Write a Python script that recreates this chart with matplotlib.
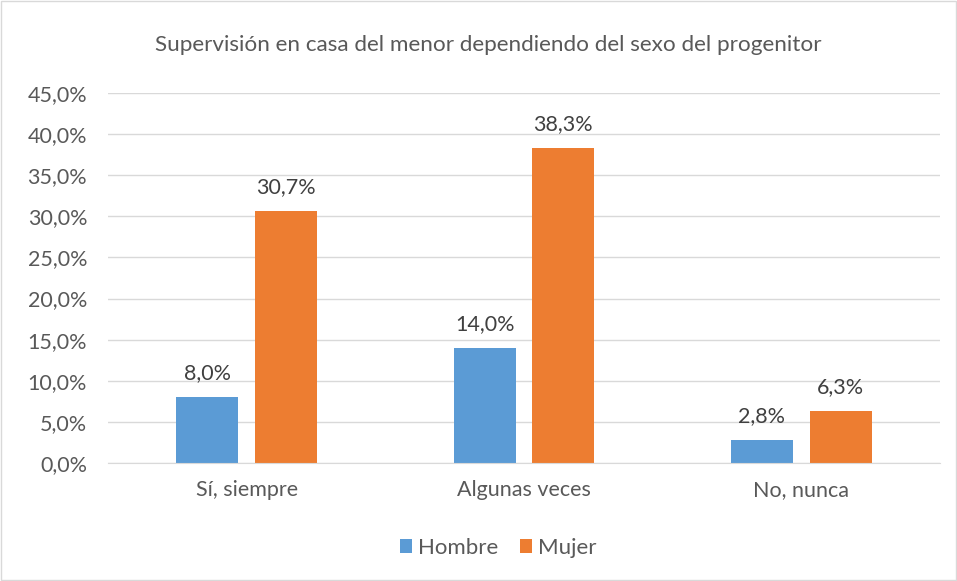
import matplotlib
matplotlib.use("Agg")
import matplotlib.pyplot as plt
from matplotlib.patches import Rectangle
import numpy as np

categories = ["Sí, siempre", "Algunas veces", "No, nunca"]
series_names = ["Hombre", "Mujer"]
hombre = [8.0, 14.0, 2.8]
mujer = [30.7, 38.3, 6.3]
yticks = [0, 5, 10, 15, 20, 25, 30, 35, 40, 45]

plt.rcParams['font.family'] = ['Lato', 'DejaVu Sans']

fig = plt.figure(figsize=(9.57, 5.81), dpi=100)
ax = fig.add_axes([108/957, 118/581, 832/957, 370/581])

x = np.arange(len(categories))
w = 0.224
off = 0.142
c_h = "#5B9BD5"
c_m = "#ED7D31"
b1 = ax.bar(x - off, hombre, w, color=c_h, label=series_names[0], zorder=3)
b2 = ax.bar(x + off, mujer, w, color=c_m, label=series_names[1], zorder=3)

def fmt(v):
    return f"{v:.1f}".replace(".", ",") + "%"

for bars, vals in ((b1, hombre), (b2, mujer)):
    for r, v in zip(bars, vals):
        ax.annotate(fmt(v), (r.get_x() + r.get_width()/2, v), xytext=(0, 10),
                    textcoords="offset points", ha="center", va="bottom",
                    fontsize=15.5, color="#404040")

ax.set_xlim(-0.5, 2.5)
ax.set_ylim(0, 45)
ax.set_yticks(yticks)
ax.set_yticklabels([f"{t:.1f}".replace(".", ",") + "%" for t in yticks])
ax.set_xticks(x)
ax.set_xticklabels(categories)
ax.tick_params(axis="both", length=0, labelsize=15.5, labelcolor="#595959")
ax.tick_params(axis="x", pad=12)
ax.tick_params(axis="y", pad=15)
ax.grid(axis="y", color="#D9D9D9", linewidth=1, zorder=0)
for s in ["top", "right", "left"]:
    ax.spines[s].set_visible(False)
ax.spines["bottom"].set_color("#D9D9D9")
ax.spines["bottom"].set_zorder(4)

fig.text(488/957, 1 - 45/581, "Supervisión en casa del menor dependiendo del sexo del progenitor",
         ha="center", va="center", fontsize=16.2, color="#595959")

leg = fig.legend(handles=[b1, b2], labels=series_names, loc="center", bbox_to_anchor=(498/957, 1 - 548/581),
                 ncol=2, frameon=False, fontsize=16, handlelength=0.55, handleheight=0.55,
                 handletextpad=0.25, columnspacing=1.0)
for t in leg.get_texts():
    t.set_color("#595959")

fig.patches.append(Rectangle((0.001, 0.001), 0.998, 0.997, transform=fig.transFigure,
                             fill=False, edgecolor="#D9D9D9", linewidth=1))

fig.savefig("out.png", dpi=100)
